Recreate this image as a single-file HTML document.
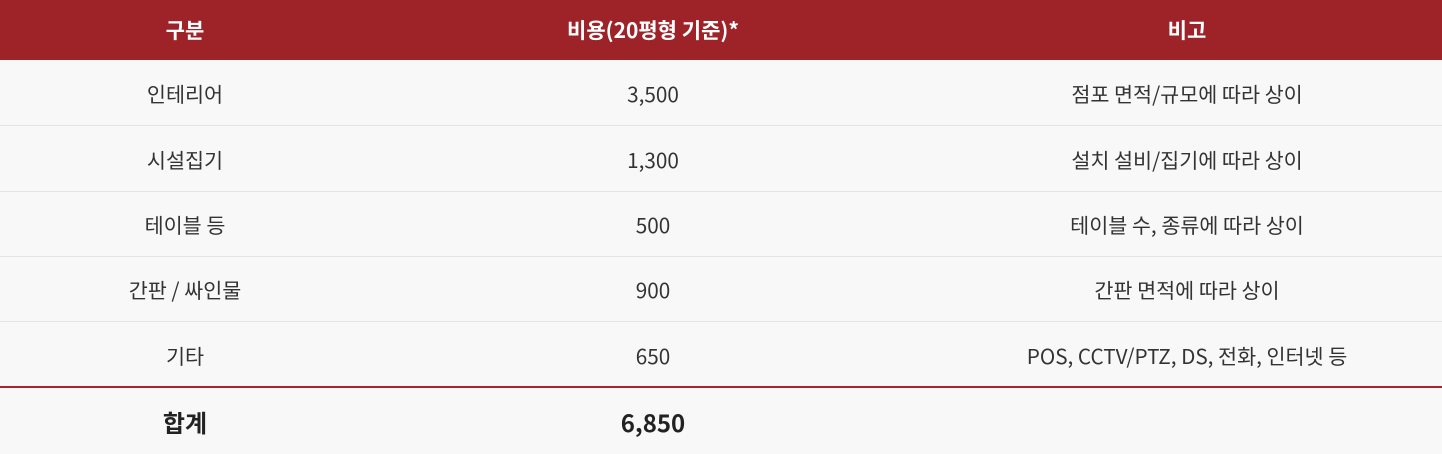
<!DOCTYPE html>
<html><head><meta charset="utf-8"><style>
html,body{margin:0;padding:0;}
body{width:1442px;height:454px;overflow:hidden;background:#f8f8f8;font-family:"Noto Sans CJK KR","NanumGothic",sans-serif;color:#333;}
.row{position:absolute;left:0;width:1442px;display:flex;align-items:center;}
.c{position:absolute;transform:translateX(-50%);white-space:nowrap;font-size:20.7px;}
.c1{left:185px}.c2{left:653px}.c3{left:1187px}
.hdr{top:0;height:60px;background:#9e2328;color:#fff;font-weight:bold;}
.hdr .c{font-size:21px;}
.sep{position:absolute;left:0;width:1442px;height:1px;background:#e4e4e4;}
.tot{font-weight:700;font-size:24px !important;color:#222;}
</style></head><body>
<div class="row hdr" style="top:0;height:60px">
 <span class="c c1">구분</span>
 <span class="c c2">비용(20평형 기준)*</span>
 <span class="c c3">비고</span>
</div>
<div class="row" style="top:60px;height:65px">
 <span class="c c1">인테리어</span><span class="c c2">3,500</span><span class="c c3">점포 면적/규모에 따라 상이</span></div>
<div class="sep" style="top:125px"></div>
<div class="row" style="top:126px;height:65px">
 <span class="c c1">시설집기</span><span class="c c2">1,300</span><span class="c c3">설치 설비/집기에 따라 상이</span></div>
<div class="sep" style="top:191px"></div>
<div class="row" style="top:192px;height:64px">
 <span class="c c1">테이블 등</span><span class="c c2">500</span><span class="c c3">테이블 수, 종류에 따라 상이</span></div>
<div class="sep" style="top:256px"></div>
<div class="row" style="top:257px;height:64px">
 <span class="c c1">간판 / 싸인물</span><span class="c c2">900</span><span class="c c3">간판 면적에 따라 상이</span></div>
<div class="sep" style="top:321px"></div>
<div class="row" style="top:322px;height:65px">
 <span class="c c1">기타</span><span class="c c2">650</span><span class="c c3">POS, CCTV/PTZ, DS, 전화, 인터넷 등</span></div>
<div style="position:absolute;left:0;top:386px;width:1442px;height:2px;background:#a8262b"></div>
<div class="row" style="top:388px;height:66px">
 <span class="c c1 tot">합계</span><span class="c c2 tot">6,850</span></div>
</body></html>
